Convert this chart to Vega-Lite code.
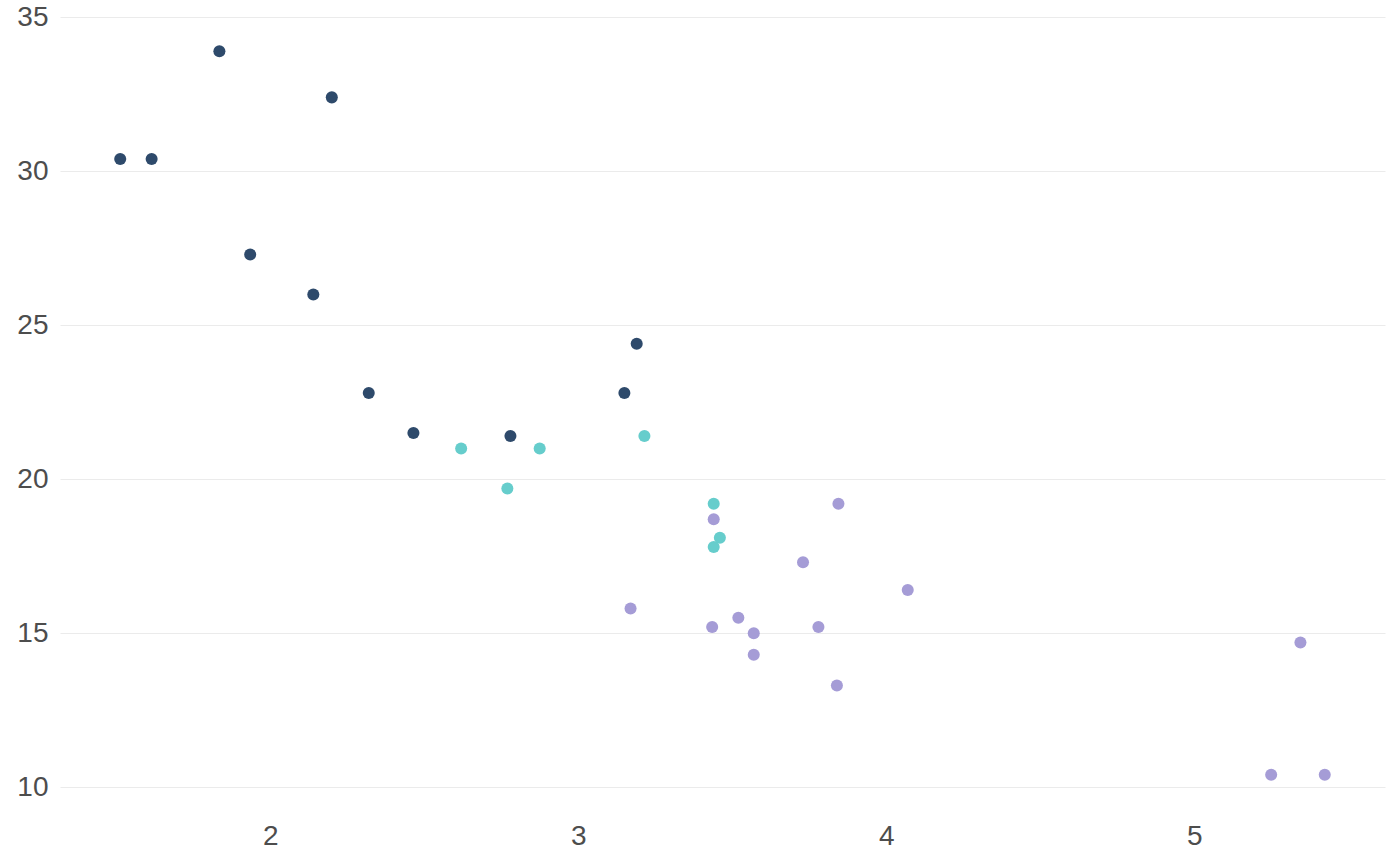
{
  "$schema": "https://vega.github.io/schema/vega-lite/v6.json",
  "width": 1325,
  "height": 796,
  "autosize": "none",
  "padding": {"left": 60, "top": 15, "right": 15, "bottom": 55},
  "background": "white",
  "data": {
    "values": [
      {"car": "Mazda RX4", "wt": 2.62, "mpg": 21.0, "cyl": "6"},
      {"car": "Mazda RX4 Wag", "wt": 2.875, "mpg": 21.0, "cyl": "6"},
      {"car": "Datsun 710", "wt": 2.32, "mpg": 22.8, "cyl": "4"},
      {"car": "Hornet 4 Drive", "wt": 3.215, "mpg": 21.4, "cyl": "6"},
      {"car": "Hornet Sportabout", "wt": 3.44, "mpg": 18.7, "cyl": "8"},
      {"car": "Valiant", "wt": 3.46, "mpg": 18.1, "cyl": "6"},
      {"car": "Duster 360", "wt": 3.57, "mpg": 14.3, "cyl": "8"},
      {"car": "Merc 240D", "wt": 3.19, "mpg": 24.4, "cyl": "4"},
      {"car": "Merc 230", "wt": 3.15, "mpg": 22.8, "cyl": "4"},
      {"car": "Merc 280", "wt": 3.44, "mpg": 19.2, "cyl": "6"},
      {"car": "Merc 280C", "wt": 3.44, "mpg": 17.8, "cyl": "6"},
      {"car": "Merc 450SE", "wt": 4.07, "mpg": 16.4, "cyl": "8"},
      {"car": "Merc 450SL", "wt": 3.73, "mpg": 17.3, "cyl": "8"},
      {"car": "Merc 450SLC", "wt": 3.78, "mpg": 15.2, "cyl": "8"},
      {"car": "Cadillac Fleetwood", "wt": 5.25, "mpg": 10.4, "cyl": "8"},
      {"car": "Lincoln Continental", "wt": 5.424, "mpg": 10.4, "cyl": "8"},
      {"car": "Chrysler Imperial", "wt": 5.345, "mpg": 14.7, "cyl": "8"},
      {"car": "Fiat 128", "wt": 2.2, "mpg": 32.4, "cyl": "4"},
      {"car": "Honda Civic", "wt": 1.615, "mpg": 30.4, "cyl": "4"},
      {"car": "Toyota Corolla", "wt": 1.835, "mpg": 33.9, "cyl": "4"},
      {"car": "Toyota Corona", "wt": 2.465, "mpg": 21.5, "cyl": "4"},
      {"car": "Dodge Challenger", "wt": 3.52, "mpg": 15.5, "cyl": "8"},
      {"car": "AMC Javelin", "wt": 3.435, "mpg": 15.2, "cyl": "8"},
      {"car": "Camaro Z28", "wt": 3.84, "mpg": 13.3, "cyl": "8"},
      {"car": "Pontiac Firebird", "wt": 3.845, "mpg": 19.2, "cyl": "8"},
      {"car": "Fiat X1-9", "wt": 1.935, "mpg": 27.3, "cyl": "4"},
      {"car": "Porsche 914-2", "wt": 2.14, "mpg": 26.0, "cyl": "4"},
      {"car": "Lotus Europa", "wt": 1.513, "mpg": 30.4, "cyl": "4"},
      {"car": "Ford Pantera L", "wt": 3.17, "mpg": 15.8, "cyl": "8"},
      {"car": "Ferrari Dino", "wt": 2.77, "mpg": 19.7, "cyl": "6"},
      {"car": "Maserati Bora", "wt": 3.57, "mpg": 15.0, "cyl": "8"},
      {"car": "Volvo 142E", "wt": 2.78, "mpg": 21.4, "cyl": "4"}
    ]
  },
  "mark": {"type": "circle", "size": 145, "opacity": 1},
  "encoding": {
    "x": {
      "field": "wt",
      "type": "quantitative",
      "title": null,
      "scale": {"domain": [1.3175, 5.6196], "nice": false, "zero": false},
      "axis": {"values": [2, 3, 4, 5], "grid": false, "domain": false, "ticks": false, "labelPadding": 11}
    },
    "y": {
      "field": "mpg",
      "type": "quantitative",
      "title": null,
      "scale": {"domain": [9.225, 35.075], "nice": false, "zero": false},
      "axis": {"values": [10, 15, 20, 25, 30, 35], "grid": true, "domain": false, "ticks": false, "labelPadding": 12}
    },
    "color": {
      "field": "cyl",
      "type": "nominal",
      "legend": null,
      "scale": {"domain": ["4", "6", "8"], "range": ["#2e4a6b", "#66cdcc", "#a59cd6"]}
    }
  },
  "config": {
    "view": {"stroke": null},
    "axis": {
      "labelFont": "Liberation Sans",
      "labelFontSize": 28,
      "labelColor": "#4d4d4d",
      "gridColor": "#ebebeb",
      "gridWidth": 1
    }
  }
}
